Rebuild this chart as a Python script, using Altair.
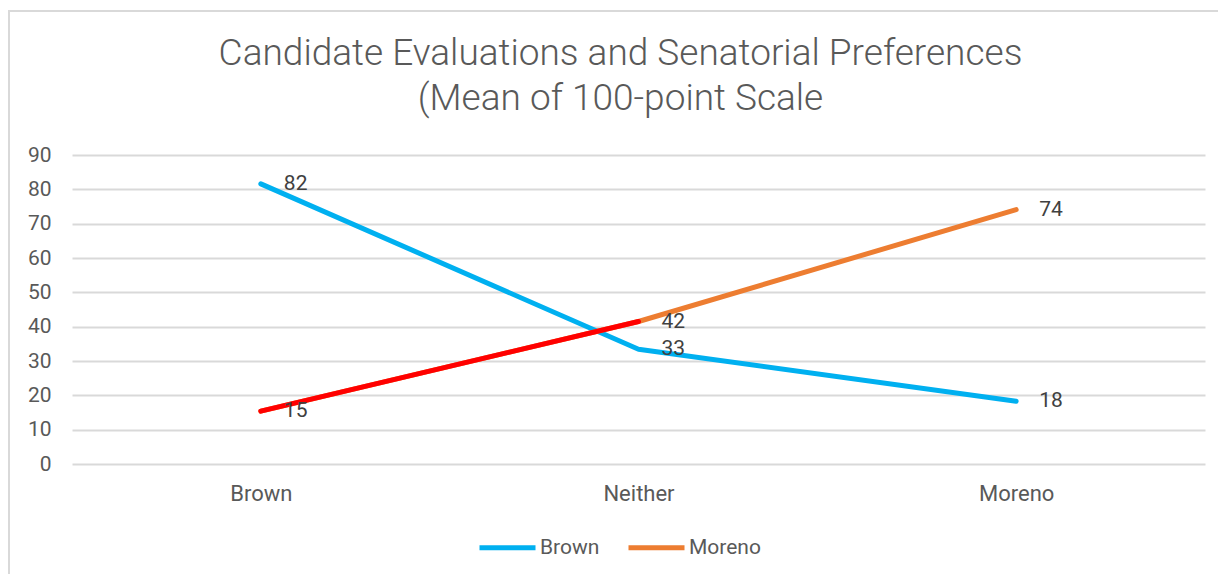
import altair as alt
import pandas as pd

categories = ["Brown", "Neither", "Moreno"]
brown_values = [81.6, 33.4, 18.3]
moreno_values = [15.4, 41.5, 74.1]
series_names = ["Brown", "Moreno"]
series_colors = ["#00B0F0", "#ED7D31"]
highlight_color = "#FF0000"

rows = []
for i, c in enumerate(categories):
    rows.append({"series": "Brown", "category": c, "order": i, "value": brown_values[i]})
    rows.append({"series": "Moreno", "category": c, "order": i, "value": moreno_values[i]})
df = pd.DataFrame(rows)

# Moreno's first segment (Brown -> Neither) is drawn in red
seg = pd.DataFrame({
    "category": categories[:2],
    "order": [0, 1],
    "value": moreno_values[:2],
})

x_enc = alt.X("category:N", sort=categories, title=None,
              scale=alt.Scale(paddingOuter=0.5, paddingInner=0),
              axis=alt.Axis(labelAngle=0, domain=False, ticks=False, grid=False,
                            labelFontSize=22, labelColor="#595959", labelPadding=19,
                            labelFont="Roboto"))
y_enc = alt.Y("value:Q", title=None,
              scale=alt.Scale(domain=[0, 90], nice=False, zero=True),
              axis=alt.Axis(values=list(range(0, 91, 10)), domain=False, ticks=False,
                            grid=True, gridColor="#D9D9D9", gridWidth=2,
                            labelFontSize=21, labelColor="#595959", labelPadding=21,
                            labelFont="Roboto", labelOverlap=False))

lines = alt.Chart(df).mark_line(strokeWidth=5, strokeCap="round", strokeJoin="round").encode(
    x=x_enc,
    y=y_enc,
    order="order:O",
    color=alt.Color("series:N",
                    scale=alt.Scale(domain=series_names, range=series_colors),
                    legend=alt.Legend(title=None, orient="none", direction="horizontal",
                                      legendX=405, legendY=362,
                                      symbolType="stroke", symbolStrokeWidth=5,
                                      symbolSize=3136, labelFontSize=21,
                                      labelColor="#595959", labelFont="Roboto",
                                      columnPadding=18, labelOffset=2)),
)

red = alt.Chart(seg).mark_line(strokeWidth=5, strokeCap="round", color=highlight_color).encode(
    x=x_enc,
    y=y_enc,
    order="order:O",
)

labels = alt.Chart(df).mark_text(align="left", baseline="middle", dx=23, fontSize=21,
                                 color="#404040", font="Roboto").encode(
    x=x_enc,
    y=y_enc,
    text=alt.Text("value:Q", format=".0f"),
)

frame = alt.Chart(pd.DataFrame({"a": [0]})).mark_rect(fill=None, stroke="#D9D9D9", strokeWidth=2).encode(
    x=alt.value(-63), x2=alt.value(1150), y=alt.value(-144), y2=alt.value(430),
)

chart = alt.layer(frame, lines, red, labels).properties(
    width=1133,
    height=309,
    title=alt.Title(["Candidate Evaluations and Senatorial Preferences", "(Mean of 100-point Scale"],
                    fontSize=37, font="Roboto", fontWeight=300,
                    color="#595959", anchor="middle", dx=-18, dy=148, offset=40, lineHeight=45),
    autosize=alt.AutoSizeParams(type="none"),
    padding={"left": 64, "top": 147, "right": 13, "bottom": 110},
).configure_view(stroke=None)

chart.save("out.html", embed_options={"renderer": "svg", "actions": False})
